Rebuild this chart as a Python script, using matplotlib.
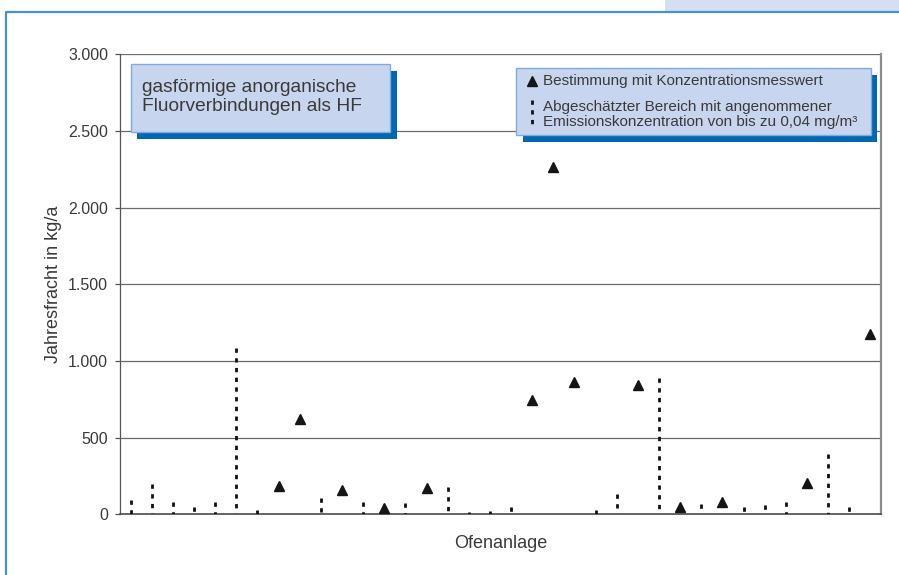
import matplotlib.pyplot as plt
from matplotlib.patches import Rectangle
from matplotlib.lines import Line2D

plt.rcParams['font.family'] = ['Liberation Sans', 'DejaVu Sans']
plt.rcParams['lines.scale_dashes'] = False

# Daten (Jahresfracht in kg/a), Ofenanlagen 1..36
anzahl_anlagen = 36
schaetzung_pos = [1, 2, 3, 4, 5, 6, 7, 10, 12, 14, 16, 17, 18, 19, 23, 24, 26, 28, 30, 31, 32, 34, 35]
schaetzung_max = [90, 200, 82, 46, 78, 1083, 28, 106, 82, 76, 176, 15, 20, 50, 28, 132, 887, 67, 50, 59, 78, 391, 50]
messung_pos = [8, 9, 11, 13, 15, 20, 21, 22, 25, 27, 29, 33, 36]
messung_wert = [187, 620, 156, 39, 174, 743, 2268, 863, 845, 46, 78, 204, 1175]
y_ticks = [0, 500, 1000, 1500, 2000, 2500, 3000]
y_labels = ['0', '500', '1.000', '1.500', '2.000', '2.500', '3.000']

W, H = 899, 575
text_col = '#3a3a3a'
box_fill = '#c8d5ee'
box_edge = '#80a9dc'
shadow_col = '#0067b3'
frame_col = '#4a8fd0'
dash = (0, (3.1, 3.9))


def fx(px):
    return px / W


def fy(py):
    return 1 - py / H


fig = plt.figure(figsize=(W / 100, H / 100), dpi=100)

# Rahmen und Reiter
fig.patches.append(Rectangle((fx(665), fy(11)), fx(W - 665), 11 / H, transform=fig.transFigure,
                             facecolor='#d4dff1', edgecolor='none'))
fig.lines.append(Line2D([fx(6), fx(6), 1], [0, fy(12), fy(12)], transform=fig.transFigure,
                        color=frame_col, lw=1.6))

ax = fig.add_axes([fx(120), 1 - 514.3 / H, 761 / W, 460 / H])
ax.set_xlim(0, anzahl_anlagen)
ax.set_ylim(0, 3000)

for v in y_ticks[1:]:
    ax.axhline(v, color='#6a6a6a', lw=0.9, zorder=1)

# Strichlinien von oben nach unten, damit oben ein voller Strich sitzt
for p, v in zip(schaetzung_pos, schaetzung_max):
    ax.plot([p - 0.5, p - 0.5], [v, 0], color='#111111', lw=2.0, linestyle=dash,
            dash_capstyle='butt', zorder=3)

ax.plot([p - 0.5 for p in messung_pos], messung_wert, linestyle='none', marker='^',
        markersize=7.2, color='#151515', zorder=4, clip_on=False)

ax.set_yticks(y_ticks)
ax.set_yticklabels(y_labels)
ax.set_xticks([])
ax.tick_params(axis='y', length=3.6, width=0.9, color='#555555', pad=5, labelsize=11.5,
               labelcolor=text_col)
ax.spines['top'].set_visible(False)
ax.spines['left'].set_color('#555555')
ax.spines['left'].set_linewidth(0.9)
ax.spines['bottom'].set_color('#4a4a4a')
ax.spines['bottom'].set_linewidth(1.2)
ax.spines['right'].set_color('#8c8c8c')
ax.spines['right'].set_linewidth(1.6)

ax.set_ylabel('Jahresfracht in kg/a', fontsize=13, color=text_col)
ax.yaxis.set_label_coords(-0.088, 0.5)
ax.yaxis.label.set_va('center')
ax.set_xlabel('Ofenanlage', fontsize=13, color=text_col)
ax.xaxis.set_label_coords(0.5, -0.063)
ax.xaxis.label.set_va('center')


def kasten(x0, y0, x1, y1, dx, dy):
    fig.patches.append(Rectangle((fx(x0 + dx), fy(y1 + dy)), fx(x1 - x0), (y1 - y0) / H,
                                 transform=fig.transFigure, facecolor=shadow_col,
                                 edgecolor='none', zorder=5))
    fig.patches.append(Rectangle((fx(x0), fy(y1)), fx(x1 - x0), (y1 - y0) / H,
                                 transform=fig.transFigure, facecolor=box_fill,
                                 edgecolor=box_edge, lw=1.0, zorder=6))


# Titelkasten
kasten(130.7, 64.3, 390, 131.7, 6.5, 6.8)
fig.text(fx(142), fy(88), 'gasförmige anorganische', fontsize=13.8, color=text_col,
         va='center', ha='left', zorder=7)
fig.text(fx(142), fy(106.7), 'Fluorverbindungen als HF', fontsize=13.8, color=text_col,
         va='center', ha='left', zorder=7)

# Legendenkasten
kasten(516, 67.7, 870.7, 135, 6.5, 7.2)
fig.lines.append(Line2D([fx(531.7)], [fy(81)], transform=fig.transFigure, marker='^',
                        markersize=7, color='#151515', linestyle='none', zorder=7))
fig.lines.append(Line2D([fx(532), fx(532)], [fy(100), fy(127)], transform=fig.transFigure,
                        color='#111111', lw=2.0, linestyle=dash, dash_capstyle='butt', zorder=7))
fig.text(fx(543), fy(81.5), 'Bestimmung mit Konzentrationsmesswert', fontsize=11, color=text_col,
         va='center', ha='left', zorder=7)
fig.text(fx(543), fy(106.7), 'Abgeschätzter Bereich mit angenommener', fontsize=11,
         color=text_col, va='center', ha='left', zorder=7)
fig.text(fx(543), fy(122), 'Emissionskonzentration von bis zu 0,04 mg/m³', fontsize=11,
         color=text_col, va='center', ha='left', zorder=7)

fig.savefig('out.png', dpi=100)
